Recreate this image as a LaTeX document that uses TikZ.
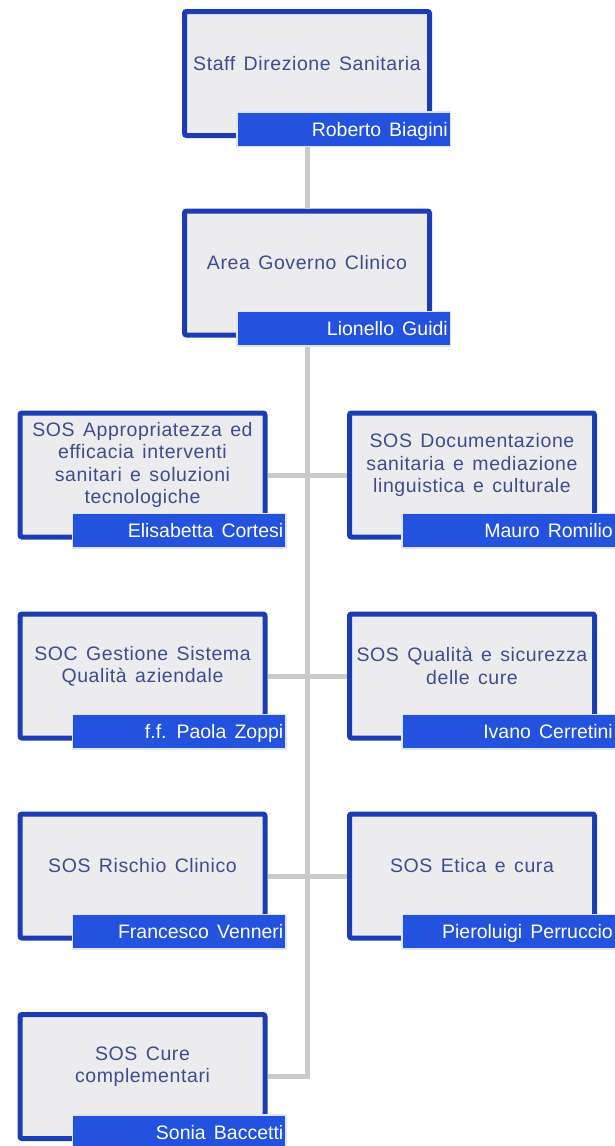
\documentclass[tikz,border=0pt]{standalone}
\usepackage{fontspec}
\setmainfont{Liberation Sans}
\newfontfamily\unitfont[LetterSpace=3,WordSpace=1.4]{Liberation Sans}
\newfontfamily\namefont[WordSpace=1.5]{Liberation Sans}

\definecolor{boxedge}{RGB}{28,60,180}
\definecolor{boxfill}{RGB}{236,236,238}
\definecolor{barfill}{RGB}{34,82,222}
\definecolor{barline}{RGB}{222,230,246}
\definecolor{linkgray}{RGB}{202,202,202}
\definecolor{unittext}{RGB}{62,76,142}

% one organisational unit: frame, title, name bar and head of unit
% #1 name, #2 x, #3 y (centre of the frame), #4 title, #5 person
\newcommand\orgunit[5]{%
  \node[unitbox] (#1) at (#2,#3) {};
  \node[unitlabel] (#1-l) at (#2,{#3+10}) {#4};
  \node[namebar] (#1-b) at ({#2+36.5},{#3-55.5}) {};
  \node[nametext] (#1-n) at ([xshift=-3pt,yshift=-7pt]#1-b.east) {#5};
}

\begin{document}
\begin{tikzpicture}[x=1pt,y=1pt,
  unitbox/.style={draw=boxedge, fill=boxfill, line width=5pt, rounded corners=2pt,
    minimum width=245pt, minimum height=124pt, inner sep=0pt},
  unitlabel/.style={text=unittext, font=\unitfont\fontsize{19.5}{22.3}\selectfont,
    align=center, inner sep=0pt},
  namebar/.style={draw=barline, fill=barfill, line width=1.5pt,
    minimum width=213.5pt, minimum height=34.5pt, inner sep=0pt},
  nametext/.style={text=white, font=\namefont\fontsize{19.5}{22}\selectfont,
    anchor=base east, inner sep=0pt},
  link/.style={draw=linkgray, line width=5pt}]

\fill[white] (0,0) rectangle (614,-1146);
\useasboundingbox (0,0) rectangle (614,-1146);

\orgunit{top}{307}{-73.5}{Staff Direzione  Sanitaria}{Roberto  Biagini}
\orgunit{area}{307}{-273}{Area Governo  Clinico}{Lionello  Guidi}

\orgunit{L1}{142.5}{-475}{SOS  Appropriatezza ed\\efficacia interventi\\sanitari e soluzioni\\tecnologiche}{Elisabetta  Cortesi}
\orgunit{R1}{472}{-475}{SOS  Documentazione\\sanitaria  e mediazione\\linguistica  e culturale}{Mauro  Romilio}

\orgunit{L2}{142.5}{-676}{SOC  Gestione  Sistema\\Qualità  aziendale}{f.f. Paola  Zoppi}
\orgunit{R2}{472}{-676}{SOS  Qualità  e sicurezza\\delle  cure}{Ivano  Cerretini}

\orgunit{L3}{142.5}{-876}{SOS  Rischio  Clinico}{Francesco Venneri}
\orgunit{R3}{472}{-876}{SOS  Etica  e cura}{Pieroluigi  Perruccio}

\orgunit{L4}{142.5}{-1076.5}{SOS  Cure\\complementari}{Sonia  Baccetti}

% connectors
\draw[link] (top.center |- top-b.south) -- (area.north);
\draw[link] (area.center |- area-b.south) |- (L4.east);
\draw[link] (L1.east) -- (R1.west);
\draw[link] (L2.east) -- (R2.west);
\draw[link] (L3.east) -- (R3.west);

\end{tikzpicture}
\end{document}
